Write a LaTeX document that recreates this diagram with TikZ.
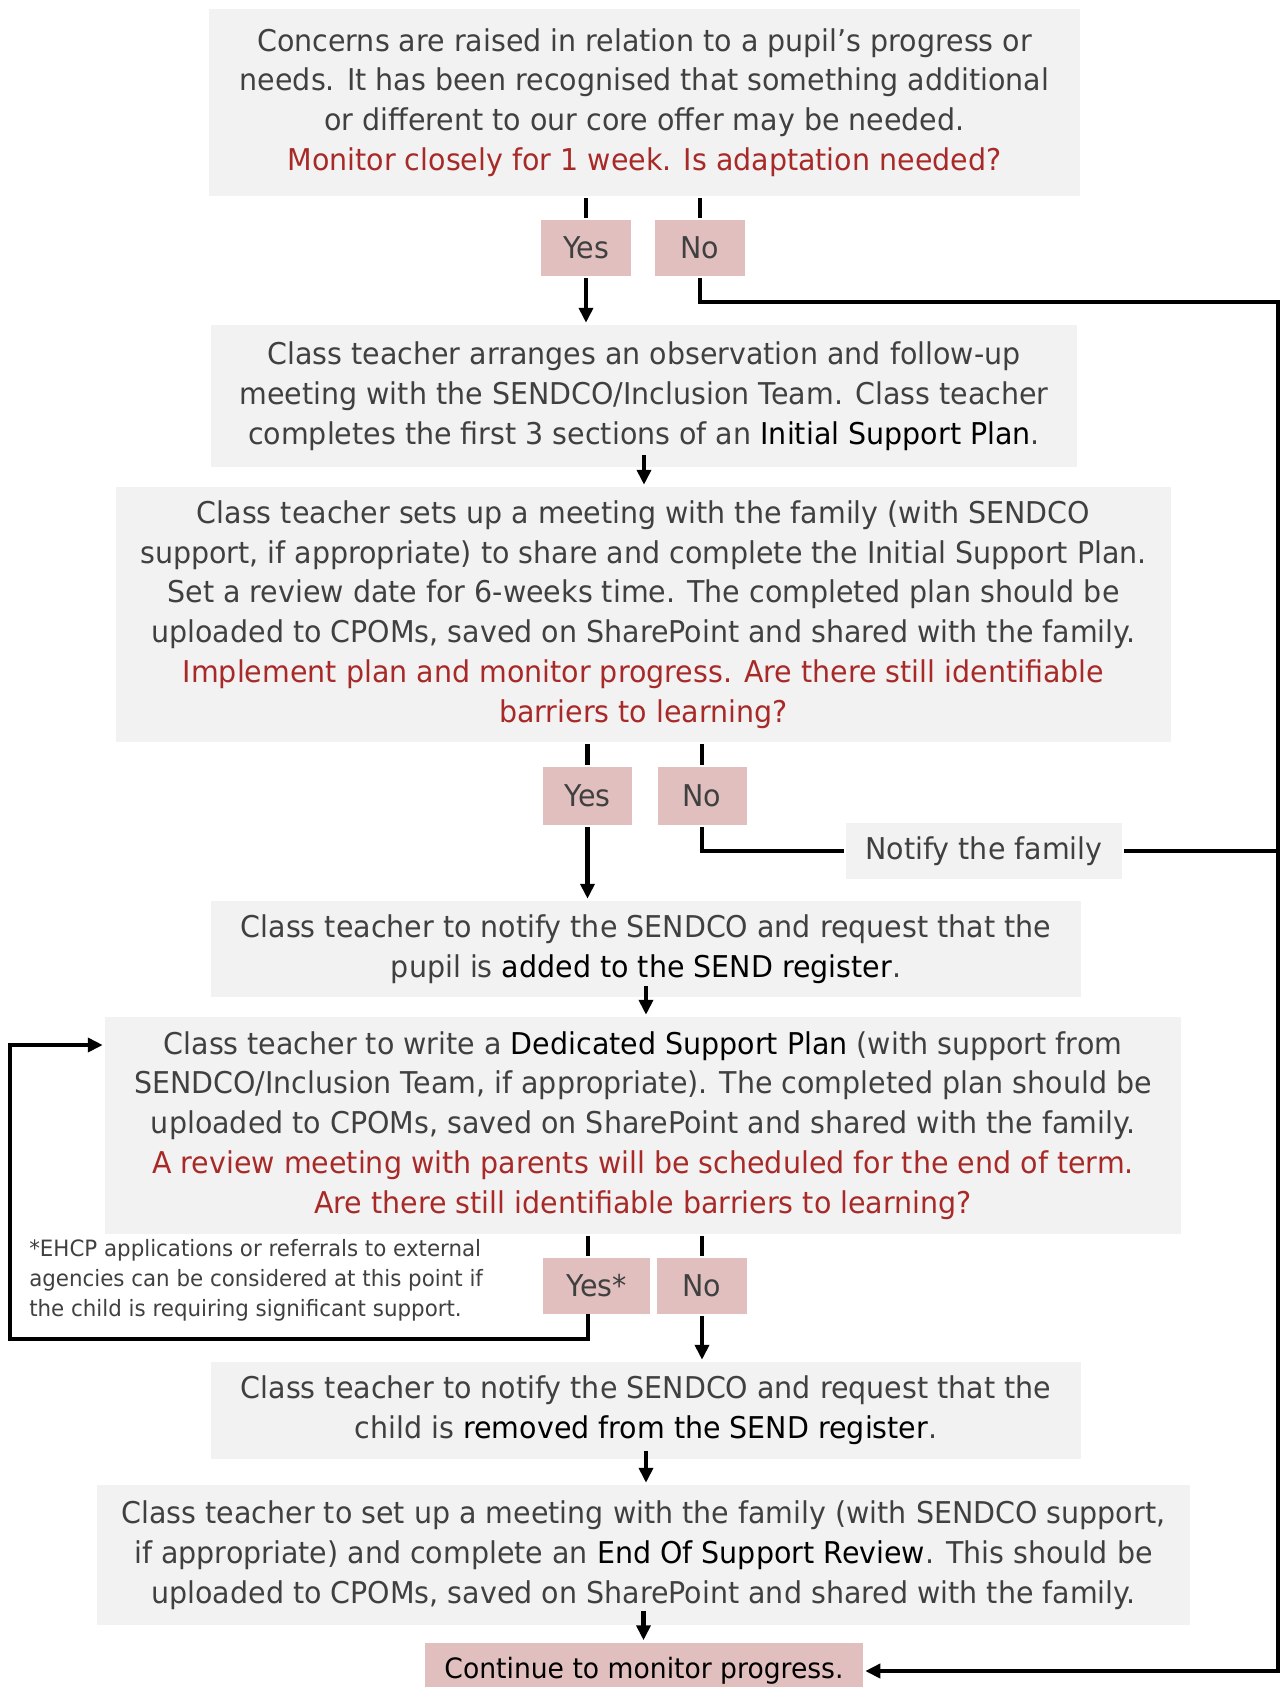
\documentclass[tikz,border=0pt]{standalone}
\usepackage{fontspec}
\setmainfont{DejaVu Sans}[FakeStretch=0.95]
\usepackage{tikz}
\usetikzlibrary{arrows.meta}

\definecolor{boxgrey}{RGB}{242,242,242}
\definecolor{boxpink}{RGB}{224,191,190}
\definecolor{askred}{RGB}{168,42,40}
\definecolor{txtgrey}{RGB}{64,64,64}
\newcommand{\ask}[1]{\textcolor{askred}{#1}}
\newcommand{\key}[1]{\textcolor{black}{#1}}

\begin{document}
\begin{tikzpicture}[x=1pt, y=-1pt, line width=4.5pt,
  box/.style={fill=boxgrey, inner sep=0pt, align=center, text=txtgrey,
    font=\fontsize{30}{39.8}\selectfont},
  tag/.style={fill=boxpink, inner sep=0pt, minimum width=90pt, minimum height=56pt,
    text=txtgrey, font=\fontsize{30}{36}\selectfont},
  arr/.style={-{Triangle[width=14pt,length=15pt]}}]
  \useasboundingbox (0,0) rectangle (1282,1687);

  \node[box, minimum width=871pt, minimum height=187pt] (A) at (644.5,102.5)
    {Concerns are raised in relation to a pupil’s progress or\\
     needs. It has been recognised that something additional\\
     or different to our core offer may be needed.\\
     \ask{Monitor closely for 1 week. Is adaptation needed?}};
  \node[tag] (Y1) at (586,248) {Yes};
  \node[tag] (N1) at (700,248) {No};

  \node[box, minimum width=866pt, minimum height=142pt] (B) at (644,396)
    {Class teacher arranges an observation and follow-up\\
     meeting with the SENDCO/Inclusion Team. Class teacher\\
     completes the first 3 sections of an \key{Initial Support Plan}.};

  \node[box, minimum width=1055pt, minimum height=255pt] (C) at (643.5,614.5)
    {Class teacher sets up a meeting with the family (with SENDCO\\
     support, if appropriate) to share and complete the Initial Support Plan.\\
     Set a review date for 6-weeks time. The completed plan should be\\
     uploaded to CPOMs, saved on SharePoint and shared with the family.\\
     \ask{Implement plan and monitor progress. Are there still identifiable}\\
     \ask{barriers to learning?}};
  \node[tag, minimum width=89pt, minimum height=58pt] (Y2) at (587.5,796) {Yes};
  \node[tag, minimum width=89pt, minimum height=58pt] (N2) at (702,796) {No};
  \node[box, minimum width=276pt, minimum height=56pt] (N) at (984,851) {Notify the family};

  \node[box, minimum width=870pt, minimum height=96pt] (D) at (646,949)
    {Class teacher to notify the SENDCO and request that the\\
     pupil is \key{added to the SEND register}.};

  \node[box, minimum width=1076pt, minimum height=217pt] (E) at (643,1125.5)
    {Class teacher to write a \key{Dedicated Support Plan} (with support from\\
     SENDCO/Inclusion Team, if appropriate). The completed plan should be\\
     uploaded to CPOMs, saved on SharePoint and shared with the family.\\
     \ask{A review meeting with parents will be scheduled for the end of term.}\\
     \ask{Are there still identifiable barriers to learning?}};
  \node[tag, minimum width=107pt] (Y3) at (596.5,1286) {Yes*};
  \node[tag] (N3) at (702,1286) {No};
  \node[align=left, anchor=west, inner sep=0pt, text=txtgrey,
    font=\fontsize{22.5}{30}\selectfont] (T) at (27,1280)
    {*EHCP applications or referrals to external\\
     agencies can be considered at this point if\\
     the child is requiring significant support.};

  \node[box, minimum width=870pt, minimum height=97pt] (F) at (646,1410.5)
    {Class teacher to notify the SENDCO and request that the\\
     child is \key{removed from the SEND register}.};

  \node[box, minimum width=1093pt, minimum height=140pt] (G) at (643.5,1555)
    {Class teacher to set up a meeting with the family (with SENDCO support,\\
     if appropriate) and complete an \key{End Of Support Review}. This should be\\
     uploaded to CPOMs, saved on SharePoint and shared with the family.};

  \node[tag, text=black, minimum width=438pt, minimum height=57pt,
    font=\fontsize{28}{34}\selectfont] (M) at (644,1671)
    {Continue to monitor progress.};

  \coordinate (R) at (1278,302);
  \coordinate (Y3x) at (588,1314);
  \coordinate (L1) at (10,1339);
  \coordinate (L2) at (10,1045);

  % first question
  \draw (A.south -| Y1) -- (Y1.north);
  \draw (A.south -| N1) -- (N1.north);
  \draw[arr] (Y1.south) -- (B.north -| Y1);
  \draw[arr] (N1.south) |- (R) -- (R |- M.east) -- (M.east);
  \draw[arr] ([yshift=14pt]B.south) -- (B.south |- C.north);

  % second question
  \draw (C.south -| Y2) -- (Y2.north);
  \draw (C.south -| N2) -- (N2.north);
  \draw[arr] (Y2.south) -- (D.north -| Y2);
  \draw (N2.south) |- (N.west);
  \draw (N.east) -- (N.east -| R);
  \draw[arr] ([yshift=13pt]D.south) -- (D.south |- E.north);

  % third question
  \draw (E.south -| Y3x) -- (Y3.north -| Y3x);
  \draw (E.south -| N3) -- (N3.north);
  \draw[arr] (Y3x) |- (L1) -- (L2) -- (L2 -| E.west);
  \draw[arr] (N3.south) -- (F.north -| N3);
  \draw[arr] ([yshift=10pt]F.south) -- (F.south |- G.north);
  \draw[arr] ([yshift=16pt]G.south) -- (G.south |- M.north);
\end{tikzpicture}
\end{document}
